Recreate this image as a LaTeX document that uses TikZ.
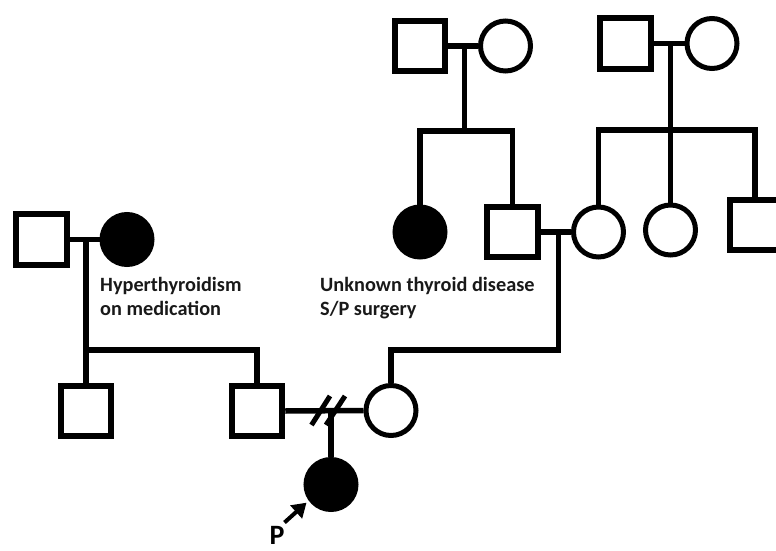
\documentclass[tikz,border=0pt]{standalone}
\usepackage{fontspec}
\setmainfont{Carlito}
\usetikzlibrary{arrows.meta,calc}
\begin{document}
\begin{tikzpicture}[x=1pt,y=-1pt,
  male/.style={draw=black, line width=6pt, minimum size=50.5pt, inner sep=0pt, fill=white, shape=rectangle},
  female/.style={draw=black, line width=5pt, minimum size=50pt, inner sep=0pt, fill=white, shape=circle},
  affected/.style={fill=black},
  ln/.style={line width=5.5pt, draw=black},
  slash/.style={line width=5pt, draw=black},
  note/.style={font=\bfseries\fontsize{20.3}{23.5}\selectfont, align=left, anchor=base west, inner sep=0pt, text=black!90},
  parrowstyle/.style={line width=4pt, -{Triangle[length=14pt,width=17pt]}, shorten >=3pt}
]
\useasboundingbox (0,0) rectangle (776,551);
\clip (0,0) rectangle (776,551);

% generation I
\node[male]   (gf1) at (420,46) {};
\node[female] (gm1) at (505.5,46) {};
\node[male]   (gf2) at (625.5,43.5) {};
\node[female] (gm2) at (712,43.5) {};
\coordinate (j1) at (464.5,46);
\coordinate (s1) at (464.5,131);
\coordinate (j2) at (670.5,43.5);
\coordinate (s2) at (670.5,130);

% generation II
\node[female,affected] (aunt) at (420,232) {};
\node[male]   (mgf) at (512.5,232) {};
\node[female] (mgm) at (598.5,232) {};
\node[female] (sis) at (670.5,230) {};
\node[male]   (bro) at (755,225) {};
\node[male]   (pgf) at (41.7,239.5) {};
\node[female,affected] (pgm) at (127,239.5) {};
\coordinate (j3) at (558.5,232);
\coordinate (s3) at (558.5,350);
\coordinate (j4) at (86,239.5);
\coordinate (s4) at (86,350);

% generation III
\node[male]   (unc) at (86,411) {};
\node[male]   (fa)  at (257,411) {};
\node[female] (mo)  at (391,410.5) {};
\coordinate (j5) at (331,410.5);

% generation IV
\node[female,affected] (pro) at (331,484.5) {};
\coordinate (parr) at (284.5,522.5);

% connectors, generation I
\draw[ln] (gf1) -- (gm1);
\draw[ln] (j1) -- (s1);
\draw[ln] (aunt.north) -- (aunt.north |- s1) -- (mgf.north |- s1) -- (mgf.north);
\draw[ln] (gf2) -- (gm2);
\draw[ln] (j2) -- (sis.north);
\draw[ln] (mgm.north) -- (mgm.north |- s2) -- (bro.north |- s2) -- (bro.north);

% connectors, generation II
\draw[ln] (mgf) -- (mgm);
\draw[ln] (j3) -- (s3) -- (mo.north |- s3) -- (mo.north);
\draw[ln] (pgf) -- (pgm);
\draw[ln] (j4) -- (s4);
\draw[ln] (unc.north) -- (unc.north |- s4) -- (fa.north |- s4) -- (fa.north);

% connectors, generation III
\draw[ln] (fa.east) -- (mo.west);
\draw[ln] (j5) -- (pro.north);
\draw[slash] ($(j5)+(-19.5,14.5)$) -- ($(j5)+(-1,-14.5)$);
\draw[slash] ($(j5)+(-5,14.5)$) -- ($(j5)+(14,-14.5)$);

% proband arrow
\draw[parrowstyle] (parr) -- (pro.216);
\node[font=\bfseries\fontsize{28}{28}\selectfont, anchor=base, inner sep=0pt] (plab) at (277,544) {P};

% notes (anchor at baseline of the last line)
\node[note] (n1) at (100,315) {Hyperthyroidism\\on medication};
\node[note] (n2) at (320,315) {Unknown thyroid disease\\S/P surgery};
\end{tikzpicture}
\end{document}
